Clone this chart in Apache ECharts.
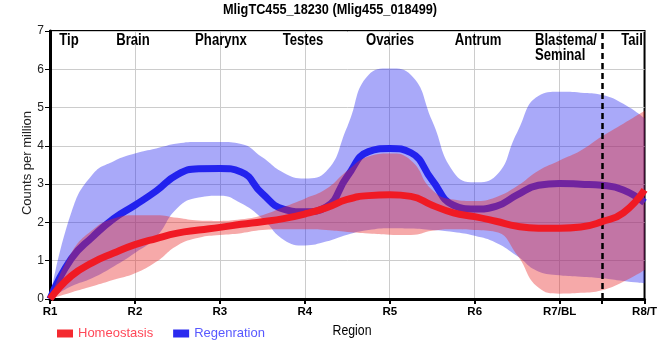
<!DOCTYPE html>
<html>
<head>
<meta charset="utf-8">
<script src="https://cdn.jsdelivr.net/npm/echarts@6/dist/echarts.min.js"></script>
<style>
html,body{margin:0;padding:0;background:#fff;}
#chart{width:660px;height:360px;}
</style>
</head>
<body>
<div id="chart"></div>
<script>
// sample positions along the body axis (R1 = 0 ... R8/T = 7)
const positions = [0,0.25,0.5,0.75,1,1.25,1.5,1.75,2,2.25,2.5,2.75,3,3.25,3.5,3.75,4,4.25,4.5,4.75,5,5.25,5.5,5.75,6,6.25,6.5,6.75,7];
const regionTicks = ['R1','R2','R3','R4','R5','R6','R7/BL','R8/T'];
const regionNames = ['Tip','Brain','Pharynx','Testes','Ovaries','Antrum','Blastema/\nSeminal','Tail'];
const yTicks = [0,1,2,3,4,5,6,7];
const titleText = 'MligTC455_18230 (Mlig455_018499)';

// Homeostasis
const homeoMean  = [0,0.6,0.95,1.2,1.42,1.58,1.72,1.8,1.87,1.95,2.02,2.1,2.22,2.38,2.6,2.7,2.72,2.68,2.45,2.25,2.15,2.03,1.9,1.85,1.85,1.88,2.02,2.25,2.85];
const homeoUpper = [0,1.2,1.8,2.1,2.19,2.19,2.12,2.05,2.04,2.08,2.19,2.4,2.62,2.87,3.35,3.72,3.8,3.62,2.85,2.6,2.56,2.66,2.95,3.35,3.62,3.88,4.25,4.58,4.92];
const homeoLower = [0,0.17,0.33,0.5,0.67,0.97,1.4,1.6,1.67,1.72,1.8,1.82,1.82,1.8,1.75,1.71,1.68,1.67,1.78,1.82,1.8,1.75,1.15,0.3,0.14,0.16,0.23,0.45,0.76];

// Regeneration
const regenMean  = [0,1.05,1.62,2.1,2.45,2.82,3.25,3.4,3.41,3.32,2.75,2.35,2.28,2.4,3.2,3.85,3.93,3.82,3.1,2.45,2.35,2.42,2.72,2.97,3.02,3.0,2.97,2.85,2.52];
const regenUpper = [0,2.25,3.25,3.6,3.8,3.93,4.06,4.1,4.1,4.05,3.7,3.3,3.15,3.33,4.5,5.85,6.02,5.85,4.65,3.32,3.05,3.22,4.35,5.3,5.41,5.39,5.33,5.1,4.72];
const regenLower = [0,0.33,0.55,0.85,1.2,1.62,2.38,2.65,2.7,2.5,2.1,1.55,1.4,1.5,1.68,1.8,1.85,1.84,1.8,1.75,1.65,1.47,1.12,0.72,0.62,0.58,0.54,0.47,0.41];

const REG = '"Liberation Sans",Arial,sans-serif';
const NARROW_SCALE = 0.82;

const diff = (u, l) => u.map((v, i) => +(v - l[i]).toFixed(3));

const chart = echarts.init(document.getElementById('chart'), null, {renderer: 'canvas'});

// condensed text helper (Arial-Narrow look)
const ntext = (txt, x, y, size, weight, align, vAlign, fill) => ({
  type: 'text', z: 100, x: x, y: y, scaleX: NARROW_SCALE, scaleY: 1,
  style: {
    text: txt, x: 0, y: 0,
    font: (weight || 'normal') + ' ' + size + 'px ' + REG,
    fill: fill || '#000', align: align || 'center', verticalAlign: vAlign || 'middle',
    lineHeight: 15
  }
});

const regionX = [69, 133, 221, 303, 390, 478, 535, 632];
const graphics = regionNames.map((t, i) =>
  i === 6 ? ntext(t, regionX[i], 33, 16, 'bold', 'left', 'top')
          : ntext(t, regionX[i], 41, 16, 'bold', 'center', 'middle'));
graphics.push(ntext(titleText, 330, 10, 15.5, 'bold', 'center', 'middle'));
graphics.push(ntext('Region', 352, 331, 15, 'normal', 'center', 'middle'));
graphics.push({
  type: 'text', z: 100, x: 27, y: 163, rotation: Math.PI / 2,
  style: {text: 'Counts per million', x: 0, y: 0, font: '13px ' + REG, fill: '#222', align: 'center', verticalAlign: 'middle'}
});

const bandBase = (stack, data, z) => ({
  type: 'line', stack: stack, data: data, smooth: true, symbol: 'none',
  lineStyle: {opacity: 0}, silent: true, z: z
});
const band = (stack, data, color, z) => ({
  type: 'line', stack: stack, data: data, smooth: true, symbol: 'none',
  lineStyle: {opacity: 0}, areaStyle: {color: color, opacity: 1}, silent: true, z: z
});

const option = {
  animation: false,
  backgroundColor: '#fff',
  legend: {
    left: 52, top: 322, itemWidth: 16, itemHeight: 8, itemGap: 20, icon: 'rect',
    textStyle: {fontFamily: REG, fontSize: 13},
    data: [
      {name: 'Homeostasis', textStyle: {color: '#ff4858'}},
      {name: 'Regenration', textStyle: {color: '#5858ff'}}
    ]
  },
  grid: {left: 50, right: 10, top: 31, bottom: 61, show: true, borderColor: '#000', borderWidth: 2, backgroundColor: 'transparent'},
  xAxis: {
    type: 'category', data: positions, boundaryGap: false,
    axisLine: {lineStyle: {color: '#000', width: 3}},
    axisTick: {show: true, length: 5, lineStyle: {color: '#000', width: 2},
      interval: (i) => i % 4 === 0 || i === 26},
    axisLabel: {
      interval: (i) => i % 4 === 0,
      formatter: (v, i) => (i % 4 === 0 ? regionTicks[i / 4] : ''),
      fontFamily: REG, fontWeight: 'bold', fontSize: 11.5, color: '#000', margin: 7
    },
    splitLine: {show: true, interval: (i) => i % 4 === 0 && i > 0 && i < 28, lineStyle: {color: '#cccccc', width: 1}}
  },
  yAxis: {
    type: 'value', min: yTicks[0], max: yTicks[yTicks.length - 1], interval: 1,
    axisLine: {show: true, lineStyle: {color: '#000', width: 3}},
    axisTick: {show: true, length: 5, lineStyle: {color: '#000', width: 1}},
    axisLabel: {fontFamily: REG, fontSize: 12, color: '#222', margin: 6},
    splitLine: {show: true, lineStyle: {color: '#cccccc', width: 1}}
  },
  graphic: graphics,
  series: [
    bandBase('regen', regenLower, 2),
    band('regen', diff(regenUpper, regenLower), 'rgba(40,40,240,0.40)', 2),
    {type: 'line', name: 'Regenration', data: regenMean, smooth: true, symbol: 'none', z: 3,
      itemStyle: {color: '#2a2aef'}, lineStyle: {color: '#2222ee', width: 7, cap: 'butt'}},
    bandBase('homeo', homeoLower, 4),
    band('homeo', diff(homeoUpper, homeoLower), 'rgba(232,40,40,0.40)', 4),
    {type: 'line', name: 'Homeostasis', data: homeoMean, smooth: true, symbol: 'none', z: 5,
      itemStyle: {color: '#f42a30'}, lineStyle: {color: '#f01a24', width: 7, cap: 'butt'},
      markLine: {silent: true, symbol: 'none', label: {show: false},
        lineStyle: {color: '#000', type: [6, 4], width: 2.5},
        data: [{xAxis: 26}]}}
  ]
};
chart.setOption(option);
</script>
</body>
</html>
